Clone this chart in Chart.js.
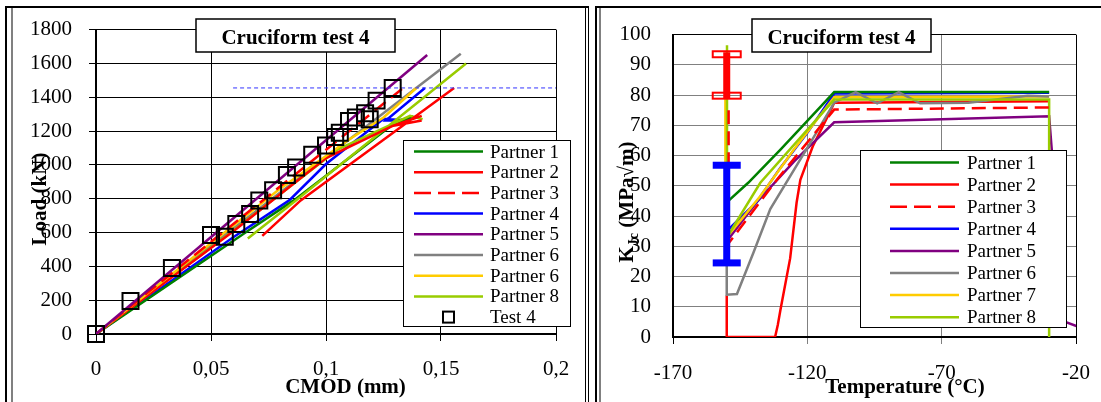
<!DOCTYPE html>
<html><head><meta charset="utf-8">
<script src="https://cdn.jsdelivr.net/npm/chart.js@4.4.1/dist/chart.umd.min.js"></script>
<style>
html,body{margin:0;padding:0;background:#fff;width:1101px;height:402px;overflow:hidden;position:relative;}
canvas{position:absolute;top:0;}
.ln{position:absolute;z-index:5;}
</style></head><body>
<canvas id="leftChart" width="592" height="402" style="left:0;width:592px;height:402px"></canvas>
<canvas id="rightChart" width="515" height="402" style="left:592px;width:515px;height:402px"></canvas>
<div class="ln" style="left:5px;top:6px;width:2px;height:396px;background:#000"></div>
<div class="ln" style="left:11px;top:8px;width:2px;height:394px;background:#808080"></div>
<div class="ln" style="left:5px;top:6px;width:584px;height:2px;background:#000"></div>
<div class="ln" style="left:585px;top:6px;width:1px;height:396px;background:#000"></div>
<div class="ln" style="left:588px;top:6px;width:1px;height:396px;background:#000"></div>
<div class="ln" style="left:595px;top:6px;width:2px;height:396px;background:#000"></div>
<div class="ln" style="left:599px;top:8px;width:2px;height:394px;background:#808080"></div>
<div class="ln" style="left:595px;top:6px;width:506px;height:2px;background:#000"></div>
<script>
// ---------------- LEFT CHART DATA (CMOD vs Load) ----------------
const cmodTickValues = [0, 0.05, 0.1, 0.15, 0.2];
const cmodTickLabels = ['0', '0,05', '0,1', '0,15', '0,2'];
const loadTickValues = [0, 200, 400, 600, 800, 1000, 1200, 1400, 1600, 1800];
const leftNames = ['Partner 1', 'Partner 2', 'Partner 3', 'Partner 4', 'Partner 5', 'Partner 6', 'Partner 6', 'Partner 8', 'Test 4'];

const partner1Cmod = [0, 0.065, 0.086, 0.131, 0.138, 0.130];
const partner1Load = [0, 600, 790, 1260, 1285, 1240];
const partner2Cmod = [0, 0.060, 0.100, 0.129, 0.1416, 0.1293, 0.1416, null, 0.0723, 0.0890, 0.1557];
const partner2Load = [0, 610, 1040, 1231, 1290, 1231, 1262, null, 580, 790, 1455];
const partner3Cmod = [0, 0.134];
const partner3Load = [0, 1460];
const partner4Cmod = [0, 0.060, 0.084, 0.100, 0.125, 0.135, 0.126, 0.143];
const partner4Load = [0, 575, 790, 1005, 1272, 1262, 1262, 1455];
const partner5Cmod = [0, 0.144];
const partner5Load = [0, 1650];
const partner6Cmod = [0, 0.1586];
const partner6Load = [0, 1657];
const partner6bCmod = [0, 0.079, 0.110, 0.125, 0.1394];
const partner6bLoad = [0, 849, 1150, 1280, 1456];
const partner8Cmod = [0, 0.060, 0.105, 0.1365, 0.142, null, 0.066, 0.0869, 0.1609];
const partner8Load = [0, 615, 1090, 1290, 1270, null, 565, 790, 1600];
const test4Cmod = [0, 0.015, 0.033, 0.050, 0.056, 0.061, 0.067, 0.071, 0.077, 0.083, 0.087, 0.094, 0.100, 0.104, 0.106, 0.110, 0.113, 0.117, 0.119, 0.122, 0.129];
const test4Load = [0, 195, 390, 585, 575, 650, 710, 790, 850, 940, 985, 1060, 1115, 1165, 1190, 1260, 1280, 1305, 1270, 1380, 1455];
const limitCmod = [0.0596, 0.2];
const limitLoad = [1455, 1455];

// ---------------- RIGHT CHART DATA (Temperature vs KJc) ----------------
const tempTickValues = [-170, -120, -70, -20];
const tempTickLabels = ['-170', '-120', '-70', '-20'];
const kTickValues = [0, 10, 20, 30, 40, 50, 60, 70, 80, 90, 100];
const rightNames = ['Partner 1', 'Partner 2', 'Partner 3', 'Partner 4', 'Partner 5', 'Partner 6', 'Partner 7', 'Partner 8'];

const r1Temp = [-150, -142, -130, -120, -110, -30];
const r1K = [44.5, 51, 62, 71.5, 81, 81];
const r2Temp = [-150, -150, -132, -131, -130, -126.4, -124, -122.6, -118, -111.5, -110, -30];
const r2K = [13.7, 0, 0, 4, 9, 26, 44.4, 52, 63, 74.6, 77.5, 78];
const r3Temp = [-149.3, -149.3, -130.9, -110, -30];
const r3K = [75, 31, 52.5, 75.2, 75.9];
const r4Temp = [-150, -139, -130, -120, -110, -30];
const r4K = [35, 44.5, 56, 67.5, 80.5, 80.8];
const r5Temp = [-150, -139, -125, -110, -30, -24, -18];
const r5K = [31.7, 44.4, 58, 71, 73, 5, 3];
const r6Temp = [-150, -150, -146.2, -140, -133.8, -119, -110, -102, -94, -86, -78, -60, -38, -30];
const r6K = [24.5, 14, 14.2, 28, 42.3, 64, 77.5, 81, 77.3, 81, 77.3, 77.5, 79.8, 79.5];
const r7Temp = [-150.5, -150.5, -138, -125, -110, -30];
const r7K = [79, 32.5, 46, 62, 79.3, 79.5];
const r8Temp = [-149.9, -149.9, -137.5, -110, -30, -30];
const r8K = [96.5, 33, 51, 78.5, 78.5, 0];

const bandTemp = -150;
const redBandK = [79.8, 93.5];
const blueBandK = [24.5, 56.8];

// ---------------- helpers ----------------
const FONT = "'Liberation Serif', 'Times New Roman', serif";
Chart.defaults.font.family = FONT;
Chart.defaults.color = '#000';

function pts(xs, ys) { return xs.map((x, i) => ({ x: x, y: ys[i] })); }

function lineDs(label, xs, ys, color, order, legendOrder, dash) {
  return {
    label: label, data: pts(xs, ys), showLine: true, borderColor: color, backgroundColor: color,
    borderWidth: 2.5, pointRadius: 0, pointHoverRadius: 0, tension: 0, spanGaps: false,
    borderDash: dash || [], order: order, legendOrder: legendOrder
  };
}

function drawTitleBox(ctx, x1, y1, x2, y2, text) {
  ctx.save();
  ctx.fillStyle = '#fff';
  ctx.fillRect(x1, y1, x2 - x1, y2 - y1);
  ctx.strokeStyle = '#000';
  ctx.lineWidth = 1.5;
  ctx.strokeRect(x1, y1, x2 - x1, y2 - y1);
  ctx.fillStyle = '#000';
  ctx.font = 'bold 21px ' + FONT;
  ctx.textAlign = 'center';
  ctx.textBaseline = 'alphabetic';
  ctx.fillText(text, (x1 + x2) / 2, y2 - 8);
  ctx.restore();
}

function drawLegend(ctx, chart, cfg) {
  ctx.save();
  ctx.fillStyle = '#fff';
  ctx.fillRect(cfg.x1, cfg.y1, cfg.x2 - cfg.x1, cfg.y2 - cfg.y1);
  ctx.strokeStyle = '#000';
  ctx.lineWidth = 1;
  ctx.strokeRect(cfg.x1 + 0.5, cfg.y1 + 0.5, cfg.x2 - cfg.x1, cfg.y2 - cfg.y1);
  const items = chart.data.datasets.filter(d => d.legendOrder !== undefined)
    .sort((a, b) => a.legendOrder - b.legendOrder);
  items.forEach((d, i) => {
    const y = cfg.firstY + i * cfg.step;
    if (d.isMarker) {
      ctx.strokeStyle = '#000';
      ctx.lineWidth = 2;
      const cx = (cfg.s1 + cfg.s2) / 2;
      ctx.strokeRect(cx - 5.5, y - 5.5, 11, 11);
    } else {
      ctx.strokeStyle = d.borderColor;
      ctx.lineWidth = 2.5;
      ctx.setLineDash(d.borderDash && d.borderDash.length ? [17, 7] : []);
      ctx.beginPath();
      ctx.moveTo(cfg.s1, y);
      ctx.lineTo(cfg.s2, y);
      ctx.stroke();
      ctx.setLineDash([]);
    }
    ctx.fillStyle = '#000';
    ctx.font = '19px ' + FONT;
    ctx.textAlign = 'left';
    ctx.textBaseline = 'alphabetic';
    ctx.fillText(d.label, cfg.textX, y + 6);
  });
  ctx.restore();
}

function setTicks(values) {
  return function (axis) { axis.ticks = values.map(v => ({ value: v })); };
}

// ---------------- LEFT CHART ----------------
const leftDatasets = [
  {
    label: leftNames[8], data: pts(test4Cmod, test4Load), showLine: false, pointStyle: 'rect',
    pointRadius: 11.3, pointHoverRadius: 11.3, borderColor: '#000', borderWidth: 2,
    backgroundColor: 'rgba(0,0,0,0)', order: 0, legendOrder: 8, isMarker: true, clip: false
  },
  {
    label: '', data: pts(limitCmod, limitLoad), showLine: true, borderColor: '#3333ff', borderWidth: 1,
    borderDash: [4, 3], pointRadius: 0, order: 1
  },
  lineDs(leftNames[4], partner5Cmod, partner5Load, '#800080', 2, 4),
  lineDs(leftNames[2], partner3Cmod, partner3Load, '#ff0000', 3, 2, [14, 7]),
  lineDs(leftNames[6], partner6bCmod, partner6bLoad, '#ffcc00', 4, 6),
  lineDs(leftNames[1], partner2Cmod, partner2Load, '#ff0000', 5, 1),
  lineDs(leftNames[7], partner8Cmod, partner8Load, '#99cc00', 6, 7),
  lineDs(leftNames[0], partner1Cmod, partner1Load, '#008000', 7, 0),
  lineDs(leftNames[3], partner4Cmod, partner4Load, '#0000ff', 8, 3),
  lineDs(leftNames[5], partner6Cmod, partner6Load, '#808080', 9, 5)
];

const leftDecor = {
  id: 'leftDecor',
  afterDraw(chart) {
    const ctx = chart.ctx;
    drawLegend(ctx, chart, { x1: 403, y1: 140, x2: 570, y2: 326, firstY: 151.5, step: 20.7, s1: 414, s2: 483, textX: 490 });
    drawTitleBox(ctx, 196, 19, 395, 52, 'Cruciform test 4');
    ctx.save();
    ctx.fillStyle = '#000';
    ctx.font = 'bold 21px ' + FONT;
    ctx.textAlign = 'center';
    ctx.textBaseline = 'alphabetic';
    ctx.fillText('CMOD (mm)', 345.5, 393);
    ctx.translate(46, 199);
    ctx.rotate(-Math.PI / 2);
    ctx.fillText('Load (kN)', 0, 0);
    ctx.restore();
  }
};

new Chart(document.getElementById('leftChart'), {
  type: 'scatter',
  data: { datasets: leftDatasets },
  options: {
    responsive: false, animation: false, devicePixelRatio: 1,
    layout: { padding: { left: 0, top: 28, right: 36, bottom: 0 } },
    plugins: { legend: { display: false }, tooltip: { enabled: false }, title: { display: false } },
    scales: {
      x: {
        type: 'linear', min: 0, max: 0.2, position: 'bottom',
        afterBuildTicks: setTicks(cmodTickValues),
        afterFit: s => { s.height = 68; },
        ticks: { autoSkip: false, maxRotation: 0, padding: 16, color: '#000', font: { size: 21, family: FONT },
          callback: (v, i) => cmodTickLabels[i] },
        grid: { color: '#000', lineWidth: 1, tickLength: 7, drawTicks: true },
        border: { display: true, color: '#000', width: 2 }
      },
      y: {
        type: 'linear', min: 0, max: 1800,
        afterBuildTicks: setTicks(loadTickValues),
        afterFit: s => { s.width = 96; },
        ticks: { autoSkip: false, padding: 17, color: '#000', font: { size: 21, family: FONT },
          callback: v => String(v) },
        grid: { color: '#000', lineWidth: 1, tickLength: 7, drawTicks: true },
        border: { display: true, color: '#000', width: 2 }
      }
    }
  },
  plugins: [leftDecor]
});

// ---------------- RIGHT CHART ----------------
const rightDatasets = [
  lineDs(rightNames[2], r3Temp, r3K, '#ff0000', 0, 2, [14, 7]),
  lineDs(rightNames[7], r8Temp, r8K, '#99cc00', 1, 7),
  lineDs(rightNames[5], r6Temp, r6K, '#808080', 2, 5),
  lineDs(rightNames[6], r7Temp, r7K, '#ffcc00', 3, 6),
  lineDs(rightNames[0], r1Temp, r1K, '#008000', 4, 0),
  lineDs(rightNames[3], r4Temp, r4K, '#0000ff', 5, 3),
  lineDs(rightNames[4], r5Temp, r5K, '#800080', 6, 4),
  lineDs(rightNames[1], r2Temp, r2K, '#ff0000', 8, 1)
];

const rightDecor = {
  id: 'rightDecor',
  afterDatasetsDraw(chart) {
    const ctx = chart.ctx;
    const xs = chart.scales.x, ys = chart.scales.y;
    const px = xs.getPixelForValue(bandTemp);
    ctx.save();
    const rTop = ys.getPixelForValue(redBandK[1]), rBot = ys.getPixelForValue(redBandK[0]);
    ctx.fillStyle = '#ff0000';
    ctx.fillRect(px - 3.5, rTop - 2, 7, rBot - rTop + 5);
    ctx.strokeStyle = '#ff0000';
    ctx.lineWidth = 2;
    ctx.strokeRect(px - 14, rTop - 3, 28, 6);
    ctx.strokeRect(px - 14, rBot - 3, 28, 6);
    const bTop = ys.getPixelForValue(blueBandK[1]), bBot = ys.getPixelForValue(blueBandK[0]);
    ctx.fillStyle = '#0000ff';
    ctx.fillRect(px - 3.5, bTop, 7, bBot - bTop);
    ctx.fillRect(px - 14, bTop - 3.5, 28, 7);
    ctx.fillRect(px - 14, bBot - 3.5, 28, 7);
    ctx.restore();
  },
  afterDraw(chart) {
    const ctx = chart.ctx;
    drawLegend(ctx, chart, { x1: 268, y1: 150, x2: 474, y2: 327, firstY: 162.5, step: 22.1, s1: 298, s2: 367, textX: 375 });
    drawTitleBox(ctx, 160, 19, 339, 52, 'Cruciform test 4');
    ctx.save();
    ctx.fillStyle = '#000';
    ctx.font = 'bold 21px ' + FONT;
    ctx.textAlign = 'center';
    ctx.textBaseline = 'alphabetic';
    ctx.fillText('Temperature (°C)', 313, 393);
    ctx.translate(41, 202);
    ctx.rotate(-Math.PI / 2);
    ctx.textAlign = 'left';
    const big = 'bold 21px ' + FONT, small = 'bold 14px ' + FONT;
    ctx.font = big; const wK = ctx.measureText('K').width;
    ctx.font = small; const wS = ctx.measureText('Jc').width;
    ctx.font = big; const wR = ctx.measureText(' (MPa√m)').width;
    const start = -(wK + wS + wR) / 2;
    ctx.font = big; ctx.fillText('K', start, 0);
    ctx.font = small; ctx.fillText('Jc', start + wK, 5);
    ctx.font = big; ctx.fillText(' (MPa√m)', start + wK + wS, 0);
    ctx.restore();
  }
};

new Chart(document.getElementById('rightChart'), {
  type: 'scatter',
  data: { datasets: rightDatasets },
  options: {
    responsive: false, animation: false, devicePixelRatio: 1,
    layout: { padding: { left: 0, top: 28, right: 31, bottom: 0 } },
    plugins: { legend: { display: false }, tooltip: { enabled: false }, title: { display: false } },
    scales: {
      x: {
        type: 'linear', min: -170, max: -20, position: 'bottom',
        afterBuildTicks: setTicks(tempTickValues),
        afterFit: s => { s.height = 65; },
        ticks: { autoSkip: false, maxRotation: 0, padding: 17, color: '#000', font: { size: 21, family: FONT },
          callback: (v, i) => tempTickLabels[i] },
        grid: { color: c => (c.tick && (c.tick.value === -20 || c.tick.value === -170)) ? '#000' : '#808080',
          lineWidth: 1, tickLength: 7, drawTicks: true },
        border: { display: true, color: '#000', width: 2 }
      },
      y: {
        type: 'linear', min: 0, max: 100,
        afterBuildTicks: setTicks(kTickValues),
        afterFit: s => { s.width = 81; },
        ticks: { autoSkip: false, padding: 22, color: '#000', font: { size: 21, family: FONT },
          callback: v => String(v) },
        grid: { color: c => (c.tick && c.tick.value === 100) ? '#000' : '#808080',
          lineWidth: 1, drawTicks: false },
        border: { display: true, color: '#000', width: 2 }
      }
    }
  },
  plugins: [rightDecor]
});
</script>
</body></html>
